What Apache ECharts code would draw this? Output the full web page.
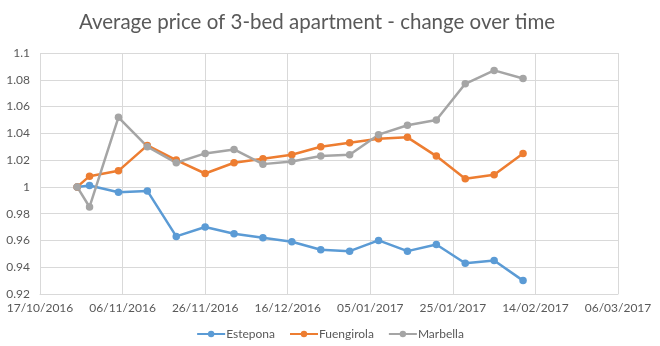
<!DOCTYPE html>
<html>
<head>
<meta charset="utf-8">
<script src="https://cdn.jsdelivr.net/npm/echarts@6/dist/echarts.min.js"></script>
<style>html,body{margin:0;padding:0;background:#fff}#c{width:660px;height:346px}</style>
</head>
<body>
<div id="c"></div>
<script>
const titleText = "Average price of 3-bed apartment - change over time";
const dates = ["2016-10-26","2016-10-29","2016-11-05","2016-11-12","2016-11-19","2016-11-26","2016-12-03","2016-12-10","2016-12-17","2016-12-24","2016-12-31","2017-01-07","2017-01-14","2017-01-21","2017-01-28","2017-02-04","2017-02-11"];
const estepona = [1.000,1.001,0.996,0.997,0.963,0.970,0.965,0.962,0.959,0.953,0.952,0.960,0.952,0.957,0.943,0.945,0.930];
const fuengirola = [1.000,1.008,1.012,1.031,1.020,1.010,1.018,1.021,1.024,1.030,1.033,1.036,1.037,1.023,1.006,1.009,1.025];
const marbella = [1.000,0.985,1.052,1.030,1.018,1.025,1.028,1.017,1.019,1.023,1.024,1.039,1.046,1.050,1.077,1.087,1.081];
const xMinDate = "2016-10-17";
const xMaxDate = "2017-03-06";
const xStepDays = 20;
const yMin = 0.92, yMax = 1.1, yStep = 0.02;

function dayNum(s){const p=s.split('-').map(Number);return Date.UTC(p[0],p[1]-1,p[2])/86400000;}
function fmt(d){const t=new Date(d*86400000);const dd=String(t.getUTCDate()).padStart(2,'0');const mm=String(t.getUTCMonth()+1).padStart(2,'0');return dd+'/'+mm+'/'+t.getUTCFullYear();}
const xs = dates.map(dayNum);
function pts(v){return xs.map((x,i)=>[x,v[i]]);}

const font = 'Lato';
const txt = '#595959';
const gridC = '#D9D9D9';
const chart = echarts.init(document.getElementById('c'));
function ser(name, data, color){
  return {name, type:'line', data:pts(data), symbol:'circle', symbolSize:7.5,
    lineStyle:{width:2.5,color}, itemStyle:{color}, animation:false};
}
chart.setOption({
  animation:false,
  textStyle:{fontFamily:font},
  title:{text:titleText,left:312,textAlign:'center',top:7,textStyle:{fontFamily:font,fontSize:20.5,fontWeight:'normal',color:txt}},
  grid:{left:40,right:42,top:53,bottom:52,containLabel:false},
  legend:{bottom:1,left:'center',itemWidth:28,itemHeight:8,itemGap:14,textStyle:{fontFamily:font,fontSize:12,color:txt,padding:[0,0,0,-4]},
    data:['Estepona','Fuengirola','Marbella']},
  xAxis:{type:'value',min:dayNum(xMinDate),max:dayNum(xMaxDate),interval:xStepDays,
    axisLine:{show:true,lineStyle:{color:gridC}},axisTick:{show:false},
    splitLine:{show:true,lineStyle:{color:gridC}},
    axisLabel:{formatter:fmt,color:txt,fontSize:12,fontFamily:font,margin:8,showMinLabel:true,showMaxLabel:true,hideOverlap:false}},
  yAxis:{type:'value',min:yMin,max:yMax,interval:yStep,
    axisLine:{show:false},axisTick:{show:false},
    splitLine:{show:true,lineStyle:{color:gridC}},
    axisLabel:{formatter:v=>String(+v.toFixed(2)),color:txt,fontSize:12,fontFamily:font,margin:10}},
  series:[ser('Estepona',estepona,'#5B9BD5'),ser('Fuengirola',fuengirola,'#ED7D31'),ser('Marbella',marbella,'#A5A5A5')]
});
</script>
</body>
</html>
